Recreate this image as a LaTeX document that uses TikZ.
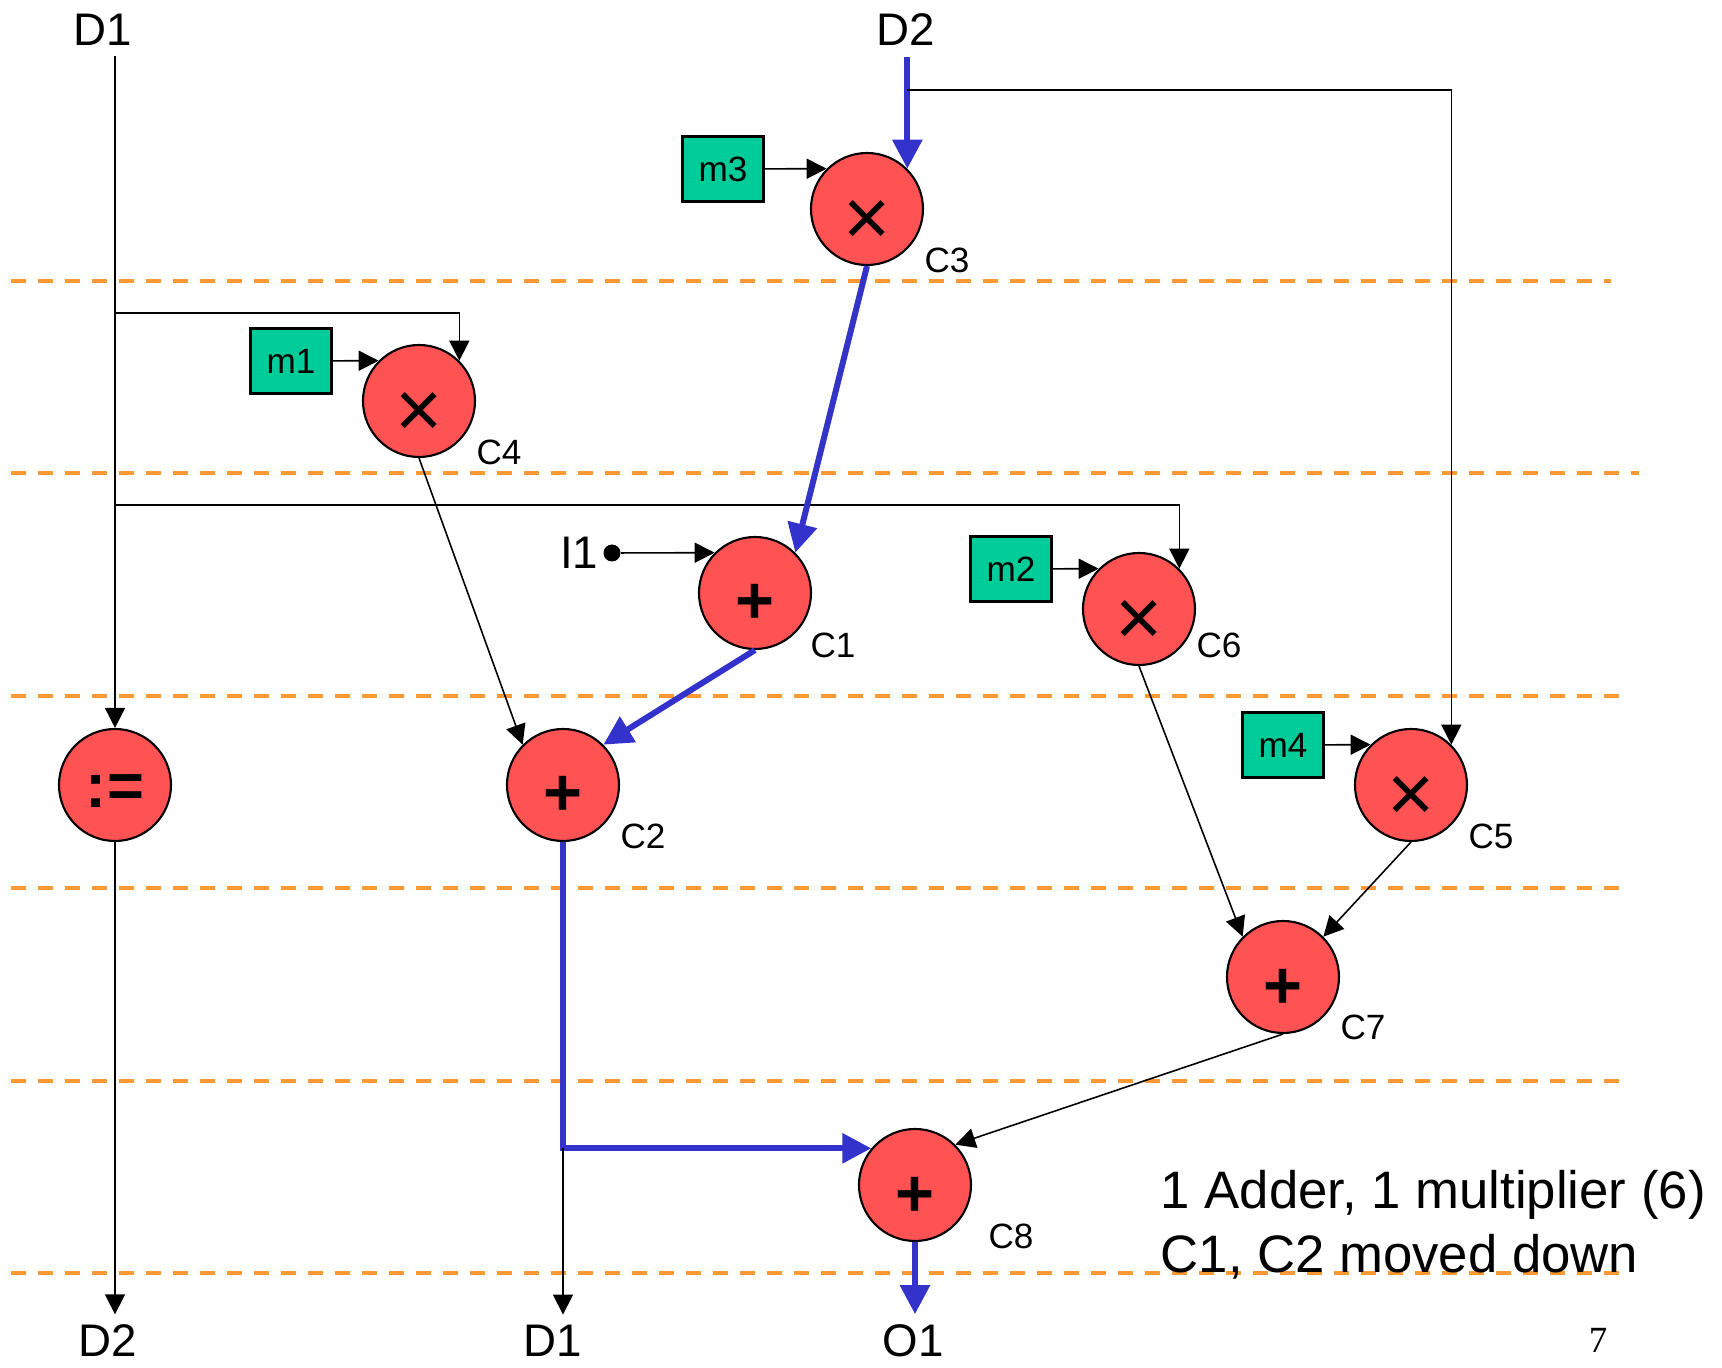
\documentclass[tikz,border=0pt]{standalone}
\usepackage{fontspec}
\setmainfont{Liberation Sans}
\newfontfamily\pagenofont{Liberation Serif}
\usetikzlibrary{arrows.meta,calc}

\definecolor{opred}{RGB}{255,82,82}
\definecolor{coefgreen}{RGB}{0,204,153}
\definecolor{critblue}{RGB}{51,51,204}
\definecolor{steporange}{RGB}{255,153,51}

% operator glyphs, set a little below the middle of the circle
\newcommand{\opmul}{\raisebox{-0.37cm}[0pt][0pt]{\fontsize{23}{23}\selectfont ×}}
\newcommand{\opadd}{\raisebox{-0.31cm}[0pt][0pt]{\fontsize{19}{19}\selectfont\bfseries +}}
\newcommand{\opasg}{\raisebox{-0.23cm}[0pt][0pt]{\fontsize{18}{18}\selectfont\bfseries :=}}

\tikzset{
  opnode/.style={circle, draw, line width=0.6pt, fill=opred, minimum size=1.12cm,
    inner sep=0pt},
  coef/.style={draw, line width=0.6pt, fill=coefgreen, minimum width=0.81cm,
    minimum height=0.65cm, inner sep=0pt, font=\fontsize{10}{12}\selectfont},
  cname/.style={font=\fontsize{10}{12}\selectfont, inner sep=0pt},
  port/.style={font=\fontsize{13}{15}\selectfont, inner sep=1mm},
  flow/.style={line width=0.45pt, -{Triangle[length=0.2cm,width=0.2cm]}},
  crit/.style={draw=critblue, line width=1.7pt, -{Triangle[length=0.29cm,width=0.29cm]}},
  cstep/.style={draw=steporange, line width=1.1pt, dash pattern=on 0.15cm off 0.12cm},
}

\begin{document}
\begin{tikzpicture}
    \useasboundingbox (0,0) rectangle (17.22,13.67);

    % control step boundaries
    \draw[cstep] (0.11,10.86) -- (16.11,10.86);
    \draw[cstep] (0.11,8.94) -- (16.39,8.94);
    \foreach \y in {6.71,4.79,2.86,0.94}
        \draw[cstep] (0.11,\y) -- (16.27,\y);

    % inputs and outputs
    \node[port] (d1in) at (1.03,13.37) {D1};
    \node[port] (d2in) at (9.06,13.37) {D2};
    \node[port] (d2out) at (1.08,0.26) {D2};
    \node[port] (d1out) at (5.53,0.26) {D1};
    \node[port] (o1) at (9.13,0.26) {O1};

    % operations
    \node[opnode] (c3) at (8.67,11.58) {\opmul};
    \node[opnode] (c4) at (4.19,9.66) {\opmul};
    \node[opnode] (c1) at (7.55,7.74) {\opadd};
    \node[opnode] (c6) at (11.39,7.58) {\opmul};
    \node[opnode] (asg) at (1.15,5.82) {\opasg};
    \node[opnode] (c2) at (5.63,5.82) {\opadd};
    \node[opnode] (c5) at (14.11,5.82) {\opmul};
    \node[opnode] (c7) at (12.83,3.90) {\opadd};
    \node[opnode] (c8) at (9.15,1.82) {\opadd};

    \node[cname] (c3n) at ($(c3)+(0.80,-0.51)$) {C3};
    \node[cname] (c4n) at ($(c4)+(0.80,-0.51)$) {C4};
    \node[cname] (c1n) at ($(c1)+(0.78,-0.52)$) {C1};
    \node[cname] (c6n) at ($(c6)+(0.80,-0.36)$) {C6};
    \node[cname] (c2n) at ($(c2)+(0.80,-0.51)$) {C2};
    \node[cname] (c5n) at ($(c5)+(0.80,-0.51)$) {C5};
    \node[cname] (c7n) at ($(c7)+(0.80,-0.50)$) {C7};
    \node[cname] (c8n) at ($(c8)+(0.96,-0.51)$) {C8};

    % coefficients
    \node[coef] (m3) at (7.23,11.98) {m3};
    \node[coef] (m1) at (2.91,10.06) {m1};
    \node[coef] (m2) at (10.11,7.98) {m2};
    \node[coef] (m4) at (12.83,6.22) {m4};

    \node[circle, fill, inner sep=0pt, minimum size=0.17cm] (i1dot) at (6.12,8.14) {};
    \node[port, anchor=east, inner sep=0pt] (i1) at (5.99,8.14) {I1};

    % branch points
    \coordinate (d2br) at (9.066,12.77);
    \coordinate (d1a) at (1.15,10.54);
    \coordinate (d1b) at (1.15,8.62);
    \coordinate (c2low) at (c2.south |- c8.140);

    % data flow
    \draw[crit] (d2in.south -| c3.45) -- (c3.45);
    \draw[flow] (d2br) -| (c5.45);
    \draw[flow] (d1in.south -| asg.north) -- (asg.north);
    \draw[flow] (d1a) -| (c4.45);
    \draw[flow] (d1b) -| (c6.45);

    \draw[flow] (m3) -- (c3.135);
    \draw[flow] (m1) -- (c4.135);
    \draw[flow] (m2) -- (c6.135);
    \draw[flow] (m4) -- (c5.135);
    \draw[flow] (i1dot) -- (c1.135);

    \draw[crit] (c3.south) -- (c1.45);
    \draw[crit] (c1.south) -- (c2.45);
    \draw[flow] (c4.south) -- (c2.135);
    \draw[flow] (c6.south) -- (c7.135);
    \draw[flow] (c5.south) -- (c7.45);
    \draw[flow] (c7.south) -- (c8.45);
    \draw[crit] (c2.south) |- (c8.140);
    \draw[flow] (c2low) -- (c2low |- d1out.north);
    \draw[flow] (asg.south) -- (asg.south |- d2out.north);
    \draw[crit] (c8.south) -- (c8.south |- o1.north);

    % notes
    \node[anchor=base west, inner sep=0pt, font=\fontsize{15}{18}\selectfont] (note1) at (11.60,1.59) {1 Adder, 1 multiplier (6)};
    \node[anchor=base west, inner sep=0pt, font=\fontsize{15}{18}\selectfont] (note2) at (11.60,0.95) {C1, C2 moved down};
    \node[font=\pagenofont\fontsize{10.5}{12}\selectfont] (pgno) at (15.98,0.27) {7};
\end{tikzpicture}
\end{document}
